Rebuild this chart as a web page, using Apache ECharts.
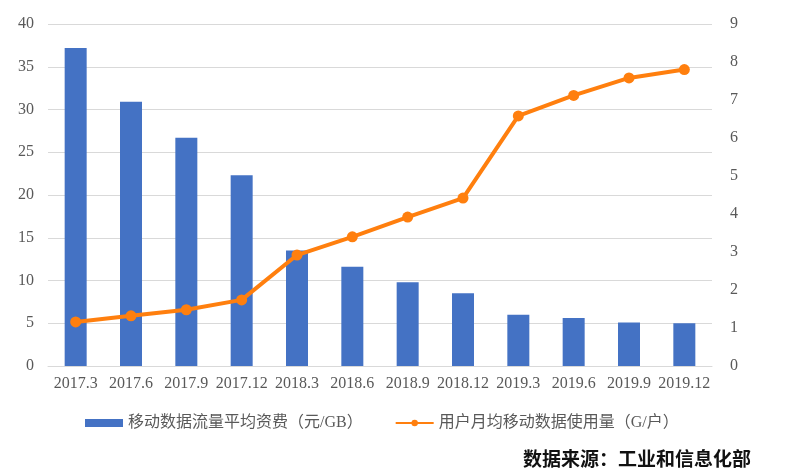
<!DOCTYPE html>
<html>
<head>
<meta charset="utf-8">
<script src="https://cdn.jsdelivr.net/npm/echarts@6/dist/echarts.min.js"></script>
<style>html,body{margin:0;padding:0;background:#fff}#c{width:787px;height:475px}</style>
</head>
<body>
<div id="c"></div>
<script>
var categories = ['2017.3','2017.6','2017.9','2017.12','2018.3','2018.6','2018.9','2018.12','2019.3','2019.6','2019.9','2019.12'];
var feeValues = [37.2, 30.9, 26.7, 22.3, 13.5, 11.6, 9.8, 8.5, 6.0, 5.6, 5.1, 5.0];
var usageValues = [1.16, 1.32, 1.48, 1.74, 2.92, 3.4, 3.92, 4.42, 6.58, 7.12, 7.58, 7.8];
var leftTicks = {min: 0, max: 40, interval: 5};
var rightTicks = {min: 0, max: 9, interval: 1};
var feeName = '移动数据流量平均资费（元/GB）';
var usageName = '用户月均移动数据使用量（G/户）';
var sourceText = '数据来源：工业和信息化部';

var chart = echarts.init(document.getElementById('c'));
var serif = '"Liberation Serif", "Noto Sans CJK SC", serif';
chart.setOption({
  animation: false,
  textStyle: {fontFamily: serif},
  grid: {left: 48, right: 75, top: 24, bottom: 109},
  legend: {
    left: 80, top: 410,
    itemWidth: 38, itemHeight: 8, itemGap: 32,
    textStyle: {fontSize: 16, color: '#595959', fontFamily: serif},
    data: [{name: feeName, icon: 'rect'}, {name: usageName}]
  },
  xAxis: {
    type: 'category', data: categories,
    axisLine: {lineStyle: {color: '#d9d9d9', width: 1}},
    axisTick: {show: false},
    axisLabel: {color: '#595959', fontSize: 16, margin: 10, interval: 0, fontFamily: serif}
  },
  yAxis: [{
    type: 'value', min: leftTicks.min, max: leftTicks.max, interval: leftTicks.interval,
    axisLine: {show: false}, axisTick: {show: false},
    axisLabel: {color: '#595959', fontSize: 16, margin: 14, fontFamily: serif},
    splitLine: {lineStyle: {color: '#d9d9d9', width: 1}}
  }, {
    type: 'value', min: rightTicks.min, max: rightTicks.max, interval: rightTicks.interval,
    axisLine: {show: false}, axisTick: {show: false},
    axisLabel: {color: '#595959', fontSize: 16, margin: 18, fontFamily: serif},
    splitLine: {show: false}
  }],
  series: [{
    name: feeName, type: 'bar', data: feeValues, yAxisIndex: 0,
    barWidth: 22,
    itemStyle: {color: '#4472C4'}
  }, {
    name: usageName, type: 'line', data: usageValues, yAxisIndex: 1,
    symbol: 'circle', symbolSize: 11,
    lineStyle: {color: '#FF7F0E', width: 4},
    itemStyle: {color: '#FF7F0E'}
  }],
  graphic: [{
    type: 'text', left: 523, top: 449,
    style: {text: sourceText, font: 'bold 19px "Noto Sans CJK SC", sans-serif', fill: '#111'}
  }]
});
</script>
</body>
</html>
